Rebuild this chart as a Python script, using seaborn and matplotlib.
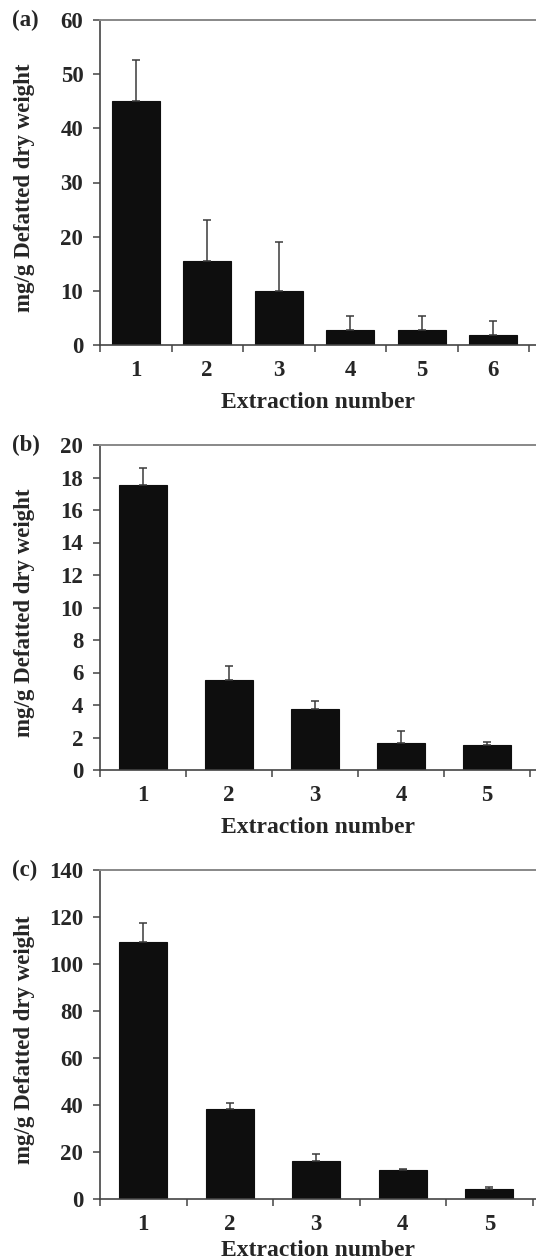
import matplotlib
matplotlib.use("Agg")
import matplotlib.pyplot as plt
import seaborn as sns
import numpy as np
import pandas as pd

# ---- data ----
cats_a = ["1", "2", "3", "4", "5", "6"]
vals_a = [45.0, 15.6, 9.9, 2.8, 2.8, 1.85]
err_a = [7.6, 7.5, 9.05, 2.6, 2.6, 2.55]

cats_b = ["1", "2", "3", "4", "5"]
vals_b = [17.53, 5.53, 3.75, 1.69, 1.54]
err_b = [1.03, 0.85, 0.47, 0.74, 0.21]

cats_c = ["1", "2", "3", "4", "5"]
vals_c = [109.3, 38.3, 16.0, 12.3, 4.4]
err_c = [8.3, 2.5, 3.1, 0.5, 0.6]

yticks_a = [0, 10, 20, 30, 40, 50, 60]
yticks_b = [0, 2, 4, 6, 8, 10, 12, 14, 16, 18, 20]
yticks_c = [0, 20, 40, 60, 80, 100, 120, 140]

panel_labels = ["(a)", "(b)", "(c)"]
xlabel = "Extraction number"
ylabel = "mg/g Defatted dry weight"

sns.set_theme(style="white")
plt.rcParams["font.family"] = ["Liberation Serif", "DejaVu Serif"]
plt.rcParams["font.weight"] = "bold"

fig = plt.figure(figsize=(5.36, 12.6), dpi=100)

W, H = 536.0, 1260.0
left_px = 100
panels = [
    (cats_a, vals_a, err_a, yticks_a, 20, 345, 0.67, 71.5, -0.145),
    (cats_b, vals_b, err_b, yticks_b, 445, 770, 0.56, 86.0, -0.145),
    (cats_c, vals_c, err_c, yticks_c, 870, 1199, 0.56, 86.5, -0.125),
]

FS = 16.5
extra = 0.02 * W
axw = W - left_px + extra
for i, (cats, vals, errs, yticks, top_px, bot_px, bw, cat_px, xl_y) in enumerate(panels):
    ax = fig.add_axes([left_px / W, (H - bot_px) / H, axw / W, (bot_px - top_px) / H])
    df = pd.DataFrame({"cat": cats, "val": vals})
    sns.barplot(data=df, x="cat", y="val", color="#0e0e0e", saturation=1,
                width=bw, ax=ax, edgecolor="#0e0e0e", linewidth=0.8)
    n = len(cats)
    ax.errorbar(np.arange(n), vals, yerr=[np.zeros(n), errs], fmt="none",
                ecolor="#3a3a3a", elinewidth=1.1, capsize=3.2, capthick=1.1, zorder=1)
    ax.set_xlim(-0.5, -0.5 + axw / cat_px)
    ax.set_ylim(yticks[0], yticks[-1])
    ax.set_yticks(yticks)
    ax.set_yticklabels([str(t) for t in yticks], fontsize=FS, fontweight="bold")
    ax.set_xticks(np.arange(n))
    ax.set_xticklabels(cats, fontsize=FS, fontweight="bold")
    ax.set_xticks(np.arange(n + 1) - 0.5, minor=True)
    ax.tick_params(axis="x", which="major", length=0, pad=11)
    ax.tick_params(axis="x", which="minor", bottom=True, length=5, width=1.1, color="#444444", direction="out")
    ax.tick_params(axis="y", which="major", left=True, length=5, width=1.1, color="#444444", direction="out", pad=7)
    ax.set_xlabel(xlabel, fontsize=FS + 0.5, fontweight="bold")
    ax.set_ylabel(ylabel, fontsize=FS, fontweight="bold")
    ax.yaxis.set_label_coords(-0.145, 0.485)
    ax.xaxis.set_label_coords((W - left_px) / 2 / axw, xl_y)
    for s in ["left", "bottom"]:
        ax.spines[s].set_color("#444444")
        ax.spines[s].set_linewidth(1.2)
    ax.spines["top"].set_color("#888888")
    ax.spines["top"].set_linewidth(1.4)
    ax.spines["right"].set_visible(False)
    ax.text((12 - left_px) / axw, 1.0, panel_labels[i], transform=ax.transAxes,
            fontsize=FS, fontweight="bold", ha="left", va="center")

fig.savefig("out.png", dpi=100)
